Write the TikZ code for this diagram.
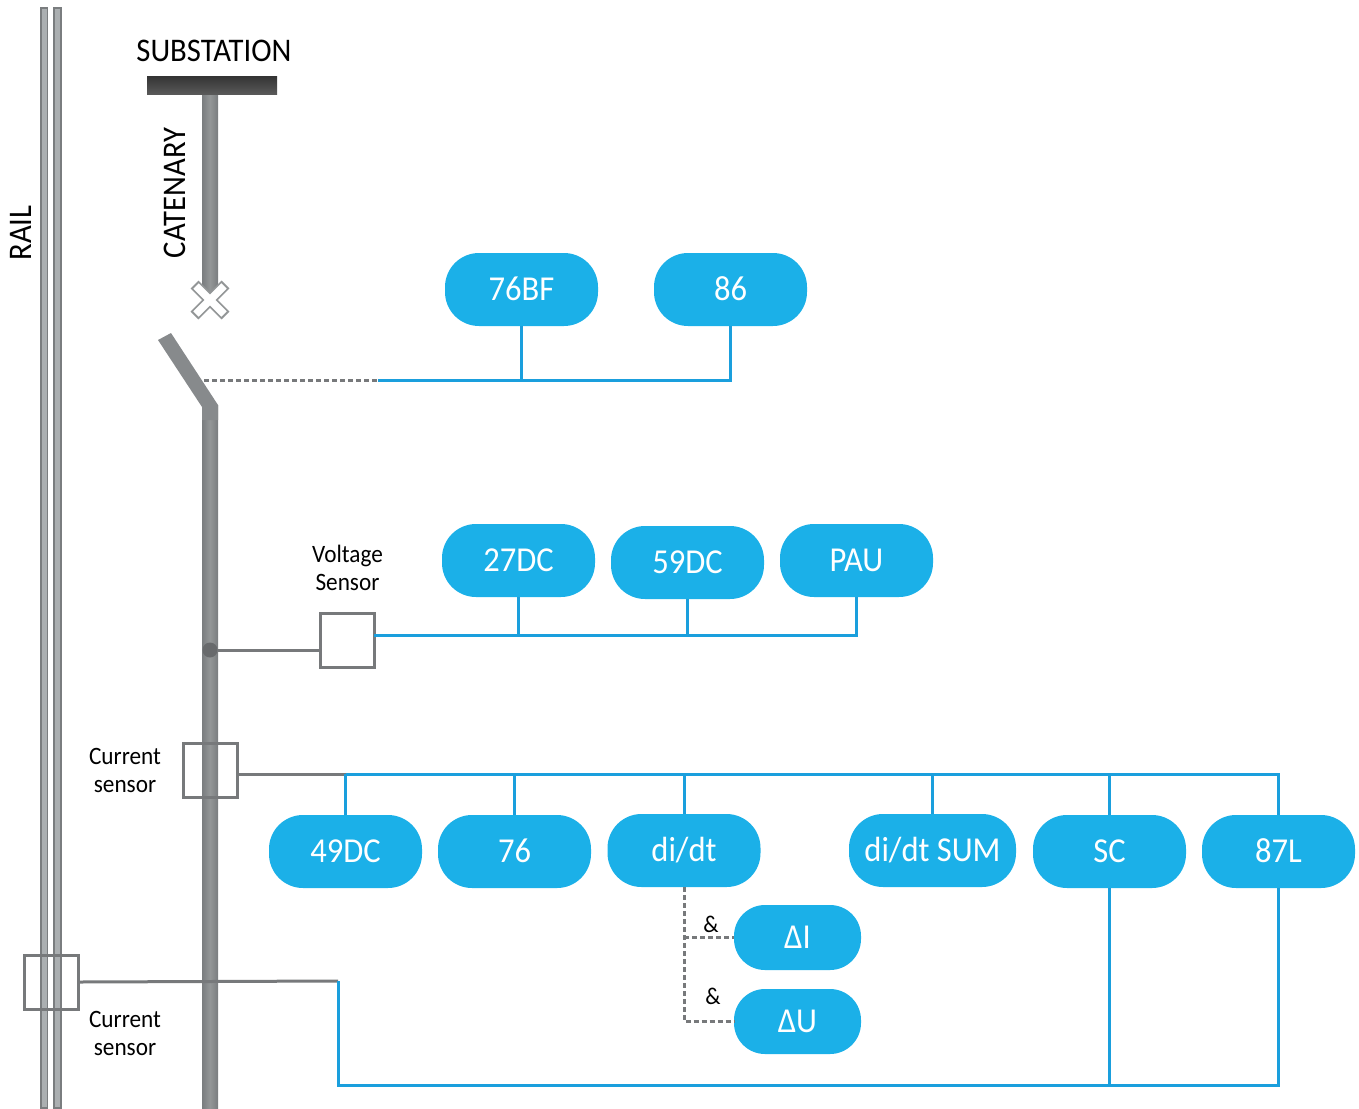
\documentclass[tikz,border=0pt]{standalone}
\usepackage{fontspec}
\setmainfont[FakeStretch=0.93]{Carlito}
\usepackage{xcolor}
\usepackage{tikz}
\usetikzlibrary{positioning}
\definecolor{relayblue}{HTML}{1BB0E8}
\definecolor{busblue}{HTML}{1A9FDD}
\definecolor{polegray}{HTML}{7A7D7F}
\definecolor{polelight}{HTML}{939697}
\definecolor{railgray}{HTML}{ABAFB1}
\definecolor{linegray}{HTML}{77797B}

\begin{document}
\begin{tikzpicture}[x=1pt, y=-1pt,
  relay/.style={rectangle, rounded corners=34pt, fill=relayblue, text=white,
                minimum width=153pt, minimum height=73pt, inner sep=0pt,
                text height=24pt, text depth=3pt,
                font=\fontsize{35}{35}\selectfont},
  subrelay/.style={relay, rounded corners=31pt, minimum width=127pt, minimum height=65pt},
  sensor/.style={rectangle, draw=linegray, line width=3pt,
                 minimum size=54pt, inner sep=0pt},
  bus/.style={busblue, line width=3pt},
  wire/.style={linegray, line width=3pt},
  dashwire/.style={linegray, line width=3pt, dash pattern=on 5pt off 3pt},
  caption/.style={font=\fontsize{25}{28}\selectfont, align=center, inner sep=0pt},
  title/.style={font=\fontsize{33}{33}\selectfont, inner sep=0pt},
  pole/.style={left color=polegray, right color=polegray, middle color=polelight},
  railbar/.style={draw=polegray, line width=1.6pt, fill=railgray}
]
\useasboundingbox (0,0) rectangle (1359,1108);

\draw[railbar] (40.8,8) rectangle (47.4,1108);
\draw[railbar] (54.2,8) rectangle (61.2,1108);
\fill[pole] (202,94) rectangle (218,298);
\fill[top color=black!80, bottom color=black!65] (147,76) rectangle (277,94);
\fill[pole] (202,405) rectangle (218,1108);
\fill[polegray!90!white] (158,340) -- (171,333) -- (218,405) -- (218,420) -- (202,420) -- (202,407) -- cycle;
\fill[polegray!85!black] (210,650) circle (7.5);

\draw[polelight, line width=11pt] (194.5,284.5) -- (225.5,315.5) (225.5,284.5) -- (194.5,315.5);
\draw[white, line width=7.5pt] (196,286) -- (224,314) (224,286) -- (196,314);

\node[title] (subst) at (214,51) {SUBSTATION};
\node[title, rotate=90] (cat) at (175,193) {CATENARY};
\node[title, rotate=90] (rail) at (21,233) {RAIL};
\node[caption] (vlab) at (347.5,567.5) {Voltage\\Sensor};
\node[caption] (ilab) at (125,770) {Current\\sensor};
\node[caption] (rlab) at (125,1033) {Current\\sensor};

\node[sensor] (vs) at (347,640) {};
\node[sensor] (is) at (210,770) {};
\node[sensor] (rs) at (51,982) {};

\node[relay] (bf)  at (521.5,289.5) {76BF};
\node[relay] (lo)  at (730.5,289.5) {86};
\node[relay] (uv)  at (518.5,560.5) {27DC};
\node[relay] (ov)  at (687.5,562.5) {59DC};
\node[relay] (pau) at (856.5,560.5) {PAU};
\node[relay] (th)  at (345.5,851.5) {49DC};
\node[relay] (oc)  at (514.5,851.5) {76};
\node[relay] (di)  at (684,850.5)   {di/dt};
\node[relay, minimum width=167pt] (dis) at (932.5,850.5) {di/dt SUM};
\node[relay] (sc)  at (1109.5,851.5) {SC};
\node[relay] (dl)  at (1278.5,851.5) {87L};
\node[subrelay] (dci) at (797.5,937.5)  {ΔI};
\node[subrelay] (dcu) at (797.5,1021.5) {ΔU};

\coordinate (blade) at (204,380.5);
\coordinate (trip)  at (378,380.5);
\coordinate (vtap)  at (218,650);
\coordinate (vout)  at (374,635);
\coordinate (itap)  at (345.5,774);
\coordinate (rtap)  at (338,981);
\coordinate (rbot)  at (338,1085);

\draw[dashwire] (blade) -- (trip);
\draw[bus] (trip) -- (lo.south |- trip) -- (lo.south);
\draw[bus] (bf.south) -- (bf.south |- trip);

\draw[wire] (vtap) -- (vtap -| vs.west);
\draw[bus] (vout) -- (pau.south |- vout) -- (pau.south);
\draw[bus] (uv.south) -- (uv.south |- vout);
\draw[bus] (ov.south) -- (ov.south |- vout);

\draw[wire] (is.east |- itap) -- (itap);
\draw[bus] (itap) -- (dl.north |- itap) -- (dl.north);
\draw[bus] (th.north) -- (itap);
\draw[bus] (oc.north) -- (oc.north |- itap);
\draw[bus] (di.north) -- (di.north |- itap);
\draw[bus] (dis.north) -- (dis.north |- itap);
\draw[bus] (sc.north) -- (sc.north |- itap);

\draw[wire] (rs.east) -- (rtap);
\draw[bus] (rtap) -- (rbot) -- (dl.south |- rbot) -- (dl.south);
\draw[bus] (sc.south) -- (sc.south |- rbot);

\draw[dashwire] (di.south) -- (di.south |- dcu.west) -- (dcu.west);
\draw[dashwire] (di.south |- dci.west) -- (dci.west);
\node[font=\fontsize{24}{24}\selectfont, inner sep=0pt] (and1) at (711,924) {\&};
\node[font=\fontsize{24}{24}\selectfont, inner sep=0pt] (and2) at (713,996) {\&};
\end{tikzpicture}
\end{document}
